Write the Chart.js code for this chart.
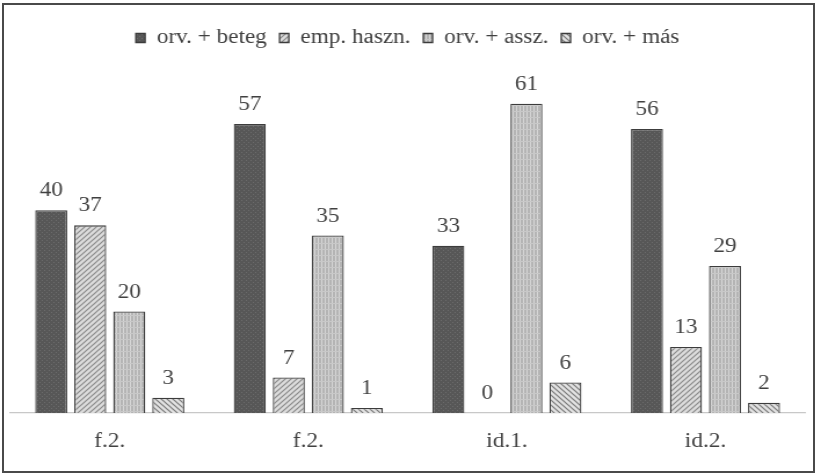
<!DOCTYPE html>
<html>
<head>
<meta charset="utf-8">
<script src="https://cdn.jsdelivr.net/npm/chart.js@4/dist/chart.umd.min.js"></script>
<style>
  html, body { margin: 0; padding: 0; background: #fff; overflow: hidden; }
  #wrap { position: absolute; left: 2px; top: 3px; width: 809px; height: 466px; border: 2px solid #4a4a4a; }
  /* the source picture is a bit wider than tall, so the canvas is stretched sideways */
  #stretch { position: absolute; left: 0; top: 0; transform-origin: 0 0; transform: scaleX(1.1596); }
</style>
</head>
<body>
<div id="wrap"></div>
<div id="stretch"><canvas id="barChart" width="708" height="475"></canvas></div>
<script>
const CATEGORIES = ["f.2.", "f.2.", "id.1.", "id.2."];
const SERIES_NAMES = ["orv. + beteg", "emp. haszn.", "orv. + assz.", "orv. + más"];
const ORV_BETEG = [40, 57, 33, 56];
const EMP_HASZN = [37, 7, 0, 13];
const ORV_ASSZ = [20, 35, 61, 29];
const ORV_MAS = [3, 1, 6, 2];

const makePattern = (size, draw) => {
    const c = document.createElement("canvas");
    c.width = size; c.height = size;
    const g = c.getContext("2d");
    draw(g, size);
    return g.createPattern(c, "repeat");
};

const PATTERNS = [
    makePattern(4, (g, s) => {
        g.fillStyle = "#575757"; g.fillRect(0, 0, s, s);
        g.fillStyle = "#6c6c6c"; g.fillRect(0, 0, 1, 1); g.fillRect(2, 2, 1, 1);
    }),
    makePattern(5, (g, s) => {
        g.fillStyle = "#dcdcdc"; g.fillRect(0, 0, s, s);
        g.strokeStyle = "#8a8a8a"; g.lineWidth = 1.2;
        g.beginPath();
        g.moveTo(-1, s + 1); g.lineTo(s + 1, -1);
        g.moveTo(-1, 1); g.lineTo(1, -1);
        g.moveTo(s - 1, s + 1); g.lineTo(s + 1, s - 1);
        g.stroke();
    }),
    makePattern(6, (g, s) => {
        g.fillStyle = "#b4b4b4"; g.fillRect(0, 0, s, s);
        g.fillStyle = "#d6d6d6";
        g.fillRect(1, 0, 1, s); g.fillRect(4, 0, 1, s);
        g.fillStyle = "#c8c8c8"; g.fillRect(0, 3, s, 1);
    }),
    makePattern(5, (g, s) => {
        g.fillStyle = "#e2e2e2"; g.fillRect(0, 0, s, s);
        g.strokeStyle = "#7a7a7a"; g.lineWidth = 1.2;
        g.beginPath();
        g.moveTo(-1, -1); g.lineTo(s + 1, s + 1);
        g.moveTo(s - 1, -1); g.lineTo(s + 1, 1);
        g.moveTo(-1, s - 1); g.lineTo(1, s + 1);
        g.stroke();
    })
];

const valueLabels = {
    id: "valueLabels",
    afterDatasetsDraw(chart) {
        const ctx = chart.ctx;
        ctx.save();
        ctx.font = "20px 'Liberation Serif'";
        ctx.fillStyle = "#404040";
        ctx.textAlign = "center";
        ctx.textBaseline = "alphabetic";
        chart.data.datasets.forEach((ds, i) => {
            chart.getDatasetMeta(i).data.forEach((bar, j) => {
                ctx.fillText(ds.data[j], bar.x, bar.y - 14);
            });
        });
        ctx.restore();
    }
};

const context = document.getElementById("barChart").getContext("2d");
const VALUES = [ORV_BETEG, EMP_HASZN, ORV_ASSZ, ORV_MAS];

const myChart = new Chart(context, {
    type: "bar",
    data: {
        labels: CATEGORIES,
        datasets: SERIES_NAMES.map((name, i) => ({
            label: name,
            data: VALUES[i],
            backgroundColor: PATTERNS[i],
            borderColor: "#3c3c3c",
            borderWidth: 1.3,
            categoryPercentage: 0.786,
            barPercentage: 0.82
        }))
    },
    options: {
        responsive: false,
        animation: false,
        devicePixelRatio: 1,
        layout: { padding: { left: 9, right: 14, top: 17, bottom: 4 } },
        plugins: {
            legend: {
                position: "top",
                labels: {
                    font: { family: "Liberation Serif", size: 20 },
                    color: "#404040",
                    boxWidth: 8,
                    boxHeight: 9,
                    padding: 11
                }
            },
            tooltip: { enabled: false }
        },
        scales: {
            x: {
                grid: { display: false, drawTicks: false },
                border: { color: "#c8c8c8", width: 1.3 },
                ticks: {
                    font: { family: "Liberation Serif", size: 20 },
                    color: "#404040",
                    padding: 17
                }
            },
            y: {
                display: false,
                min: 0,
                max: 70
            }
        }
    },
    plugins: [valueLabels]
});
</script>
</body>
</html>
